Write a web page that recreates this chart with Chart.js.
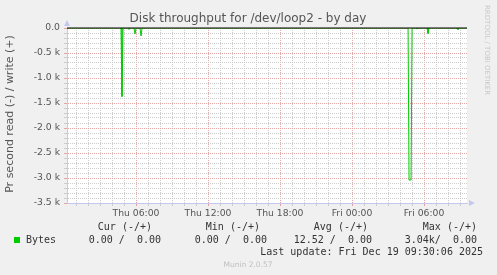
<!DOCTYPE html>
<html>
<head>
<meta charset="utf-8">
<script src="https://cdn.jsdelivr.net/npm/chart.js@4.4.1/dist/chart.umd.min.js"></script>
<style>
  html, body { margin: 0; padding: 0; background: #f0f0f0; }
  canvas { display: block; }
</style>
</head>
<body>
<canvas id="grafico" width="497" height="275"></canvas>
<script>
// time in hours since Thu 00:00, read bytes per second plotted negative
const horas = [0.25, 4.75, 4.83, 4.92, 5.33, 5.42, 5.5, 5.83, 5.92, 6.0, 6.33, 6.42, 6.5,
               28.67, 28.75, 28.92, 29.0, 29.33, 29.42, 29.5, 30.25, 30.33, 30.42, 32.75, 32.83, 32.92, 33.58];
const leitura = [0, 0, -1370, 0, 0, -30, 0, 0, -120, 0, 0, -160, 0,
                 0, -3040, -3040, 0, 0, -20, 0, 0, -110, 0, 0, -30, 0, 0];
const escritaHoras = [0.25, 33.58];
const escrita = [0, 0];

const horasTicks = [1,2,3,4,5,6,7,8,9,10,11,12,13,14,15,16,17,18,19,20,21,22,23,24,25,26,27,28,29,30,31,32,33];
const rotulosX = { 6: 'Thu 06:00', 12: 'Thu 12:00', 18: 'Thu 18:00', 24: 'Fri 00:00', 30: 'Fri 06:00' };
const rotulosY = ['0.0', '-0.5 k', '-1.0 k', '-1.5 k', '-2.0 k', '-2.5 k', '-3.0 k', '-3.5 k'];

const cabecalho = ['Cur (-/+)', 'Min (-/+)', 'Avg (-/+)', 'Max (-/+)'];
const valores = ['0.00 /  0.00', '0.00 /  0.00', '12.52 /  0.00', '3.04k/  0.00'];

const VERDE = '#00cc00';
const MAIOR = 'rgba(225,150,150,0.85)';
const MENOR = 'rgba(200,200,200,0.9)';
const EIXO = 'rgb(196,200,240)';

const textos = {
  id: 'textos',
  beforeDraw(chart) {
    const { ctx, chartArea: a } = chart;
    ctx.save();
    ctx.fillStyle = '#fff';
    ctx.fillRect(a.left, a.top, a.right - a.left, a.bottom - a.top);
    ctx.restore();
  },
  afterDatasetsDraw(chart) {
    // black zero rule drawn over the series, like munin
    const { ctx, chartArea: a, scales: { y } } = chart;
    const y0 = y.getPixelForValue(0);
    ctx.save();
    ctx.strokeStyle = '#000';
    ctx.lineWidth = 1.2;
    ctx.beginPath();
    ctx.moveTo(a.left, y0);
    ctx.lineTo(a.right, y0);
    ctx.stroke();
    ctx.restore();
  },
  afterDraw(chart) {
    const { ctx, chartArea: a } = chart;
    ctx.save();
    // arrows
    ctx.fillStyle = EIXO;
    ctx.beginPath();
    ctx.moveTo(a.left - 3, a.top - 2);
    ctx.lineTo(a.left + 3, a.top - 2);
    ctx.lineTo(a.left, a.top - 8);
    ctx.fill();
    ctx.beginPath();
    ctx.moveTo(a.right + 2, a.bottom - 3);
    ctx.lineTo(a.right + 2, a.bottom + 3);
    ctx.lineTo(a.right + 8, a.bottom);
    ctx.fill();

    // title
    ctx.fillStyle = '#555';
    ctx.font = '12px "DejaVu Sans"';
    ctx.textAlign = 'center';
    ctx.textBaseline = 'middle';
    ctx.fillText('Disk throughput for /dev/loop2 - by day', 248, 19);

    // y title
    ctx.save();
    ctx.translate(10, 114);
    ctx.rotate(-Math.PI / 2);
    ctx.font = '11px "DejaVu Sans"';
    ctx.fillText('Pr second read (-) / write (+)', 0, 0);
    ctx.restore();

    // watermark
    ctx.save();
    ctx.translate(487, 5);
    ctx.rotate(Math.PI / 2);
    ctx.fillStyle = '#c8c8c8';
    ctx.font = '7px "DejaVu Sans"';
    ctx.textAlign = 'left';
    ctx.fillText('RRDTOOL / TOBI OETIKER', 0, 0);
    ctx.restore();

    // legend
    ctx.font = '10px "DejaVu Sans Mono"';
    ctx.fillStyle = '#333';
    ctx.textAlign = 'right';
    const colCab = [152, 260, 368, 477];
    cabecalho.forEach((t, i) => ctx.fillText(t, colCab[i], 227));
    const colVal = [161, 267, 372, 477];
    valores.forEach((t, i) => ctx.fillText(t, colVal[i], 240));
    ctx.fillText('Last update: Fri Dec 19 09:30:06 2025', 483, 252);
    ctx.textAlign = 'left';
    ctx.fillText('Bytes', 26, 240);
    ctx.fillStyle = VERDE;
    ctx.fillRect(14, 237, 6, 6);

    ctx.fillStyle = '#c0c0c0';
    ctx.font = '7.5px "DejaVu Sans"';
    ctx.textAlign = 'center';
    ctx.fillText('Munin 2.0.57', 248, 265);
    ctx.restore();
  }
};

new Chart(document.getElementById('grafico').getContext('2d'), {
  type: 'line',
  data: {
    datasets: [
      {
        label: 'Bytes read',
        data: horas.map((h, i) => ({ x: h, y: leitura[i] })),
        borderColor: VERDE,
        borderWidth: 1,
        pointRadius: 0,
        tension: 0
      },
      {
        label: 'Bytes write',
        data: escritaHoras.map((h, i) => ({ x: h, y: escrita[i] })),
        borderColor: 'rgba(0,0,0,0)',
        borderWidth: 1,
        pointRadius: 0
      }
    ]
  },
  options: {
    responsive: false,
    animation: false,
    events: [],
    layout: { padding: { left: 0, top: 28, right: 30, bottom: 0 } },
    plugins: { legend: { display: false }, tooltip: { enabled: false }, title: { display: false } },
    scales: {
      x: {
        type: 'linear',
        min: 0.25,
        max: 33.58,
        afterFit(s) { s.height = 72; },
        afterBuildTicks(s) { s.ticks = horasTicks.map(v => ({ value: v })); },
        ticks: {
          autoSkip: false,
          maxRotation: 0,
          padding: 2,
          color: '#555',
          font: { family: 'DejaVu Sans', size: 9.25 },
          callback: v => rotulosX[v] || ''
        },
        grid: {
          color: c => (c.tick && c.tick.value % 6 === 0) ? MAIOR : MENOR,
          tickColor: c => (c.tick && c.tick.value % 6 === 0) ? MAIOR : MENOR,
          tickLength: 3,
          lineWidth: 1
        },
        border: { color: EIXO, dash: [1, 1] }
      },
      y: {
        min: -3500,
        max: 0,
        afterFit(s) { s.width = 67; },
        ticks: {
          stepSize: 100,
          autoSkip: false,
          padding: 4,
          color: '#555',
          font: { family: 'DejaVu Sans', size: 9.25 },
          callback: v => (v % 500 === 0) ? rotulosY[Math.round(-v / 500)] : ''
        },
        grid: {
          color: c => (c.tick && c.tick.value % 500 === 0) ? MAIOR : MENOR,
          tickColor: c => (c.tick && c.tick.value % 500 === 0) ? MAIOR : MENOR,
          tickLength: 3,
          lineWidth: 1
        },
        border: { color: EIXO, dash: [1, 1] }
      }
    }
  },
  plugins: [textos]
});
</script>
</body>
</html>
